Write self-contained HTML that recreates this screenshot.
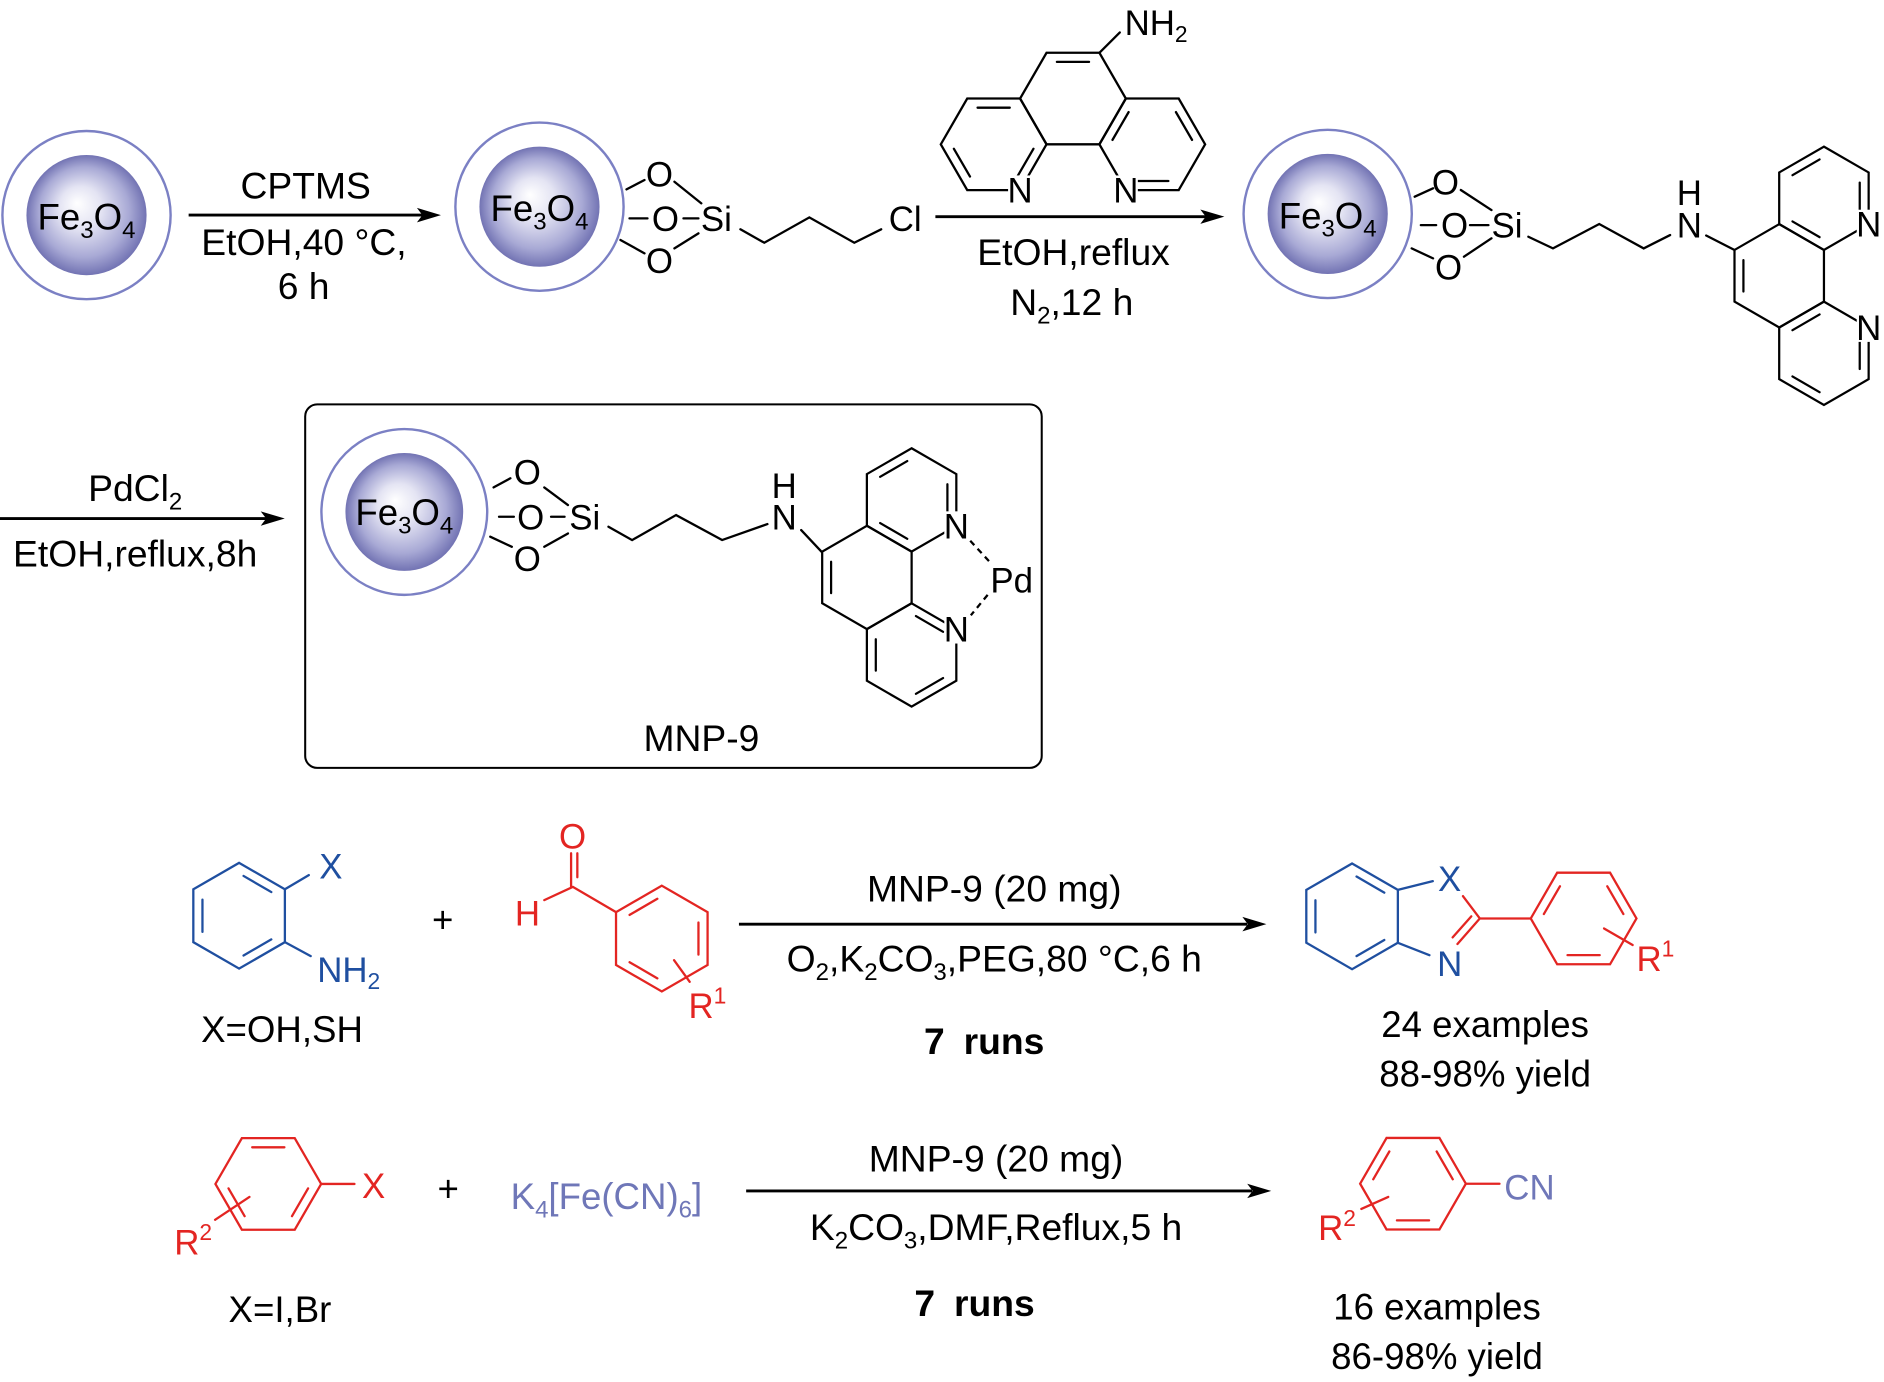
<!DOCTYPE html>
<html><head><meta charset="utf-8"><style>
html,body{margin:0;padding:0;background:#fff;}
svg{display:block;}
text{font-family:"Liberation Sans",Arial,sans-serif;font-size:30.5px;fill:#000;}
.c{text-anchor:middle;}
.a{font-size:29px;}
.cd{font-size:31px;}
.b{font-weight:bold;font-size:31px;}
</style></head><body>
<svg xmlns="http://www.w3.org/2000/svg" width="1884" height="1382" viewBox="0 0 1568 1150" preserveAspectRatio="none">
<defs>
<radialGradient id="sg" cx="0.5" cy="0.5" r="0.5" fx="0.42" fy="0.4">
<stop offset="0" stop-color="#ffffff"/>
<stop offset="0.35" stop-color="#e4e4f3"/>
<stop offset="0.75" stop-color="#a8a9d5"/>
<stop offset="1" stop-color="#7273b3"/>
</radialGradient>
</defs>

<!-- spheres -->
<g stroke="#7b80c4" stroke-width="2" fill="none">
<circle cx="72" cy="179" r="70"/>
<circle cx="449" cy="172" r="70"/>
<circle cx="1105" cy="178" r="70"/>
<circle cx="336.5" cy="426" r="69"/>
</g>
<g fill="url(#sg)">
<circle cx="72" cy="179" r="50"/>
<circle cx="449" cy="172" r="50"/>
<circle cx="1105" cy="178" r="50"/>
<circle cx="336.5" cy="426" r="49"/>
</g>
<text class="c" x="72" y="191" font-size="30">Fe<tspan font-size="20" dy="7">3</tspan><tspan dy="-7">O</tspan><tspan font-size="20" dy="7">4</tspan></text>
<text class="c" x="449" y="184" font-size="30">Fe<tspan font-size="20" dy="7">3</tspan><tspan dy="-7">O</tspan><tspan font-size="20" dy="7">4</tspan></text>
<text class="c" x="1105" y="190" font-size="30">Fe<tspan font-size="20" dy="7">3</tspan><tspan dy="-7">O</tspan><tspan font-size="20" dy="7">4</tspan></text>
<text class="c" x="336.5" y="437" font-size="30">Fe<tspan font-size="20" dy="7">3</tspan><tspan dy="-7">O</tspan><tspan font-size="20" dy="7">4</tspan></text>

<!-- black bonds -->
<g stroke="#000" stroke-width="1.9" fill="none" stroke-linecap="round" stroke-linejoin="miter">
<path d="M521.4,157.6 L536.4,149.8 M561.3,151.2 L583.7,169.2 M523.9,181.7 L538.9,181.7 M568.8,181.7 L581.3,181.7 M516.4,199.7 L536.4,210.8 M561.3,206.7 L581.3,194.2 M616.2,190.8 L636.1,202 L673.6,180.9 L711,202 L733.4,190.8"/>
<path d="M1177.4,163.7 L1192.7,156.7 M1215.8,158.1 L1241.3,174.8 M1182.5,187.3 L1195.3,187.3 M1223.4,187.3 L1238.8,187.3 M1174.9,206.7 L1192.7,215 M1218.4,213.6 L1241.3,198.3 M1272,197 L1292.5,206.7 L1331,186.4 L1368,206.7 L1390,195.6 M1420,196 L1443.6,208"/>
<path d="M410.8,405.6 L424.8,398 M453,405.6 L472.7,420.3 M415.3,430 L427.7,430 M458.6,430 L469.9,430 M408,446.6 L426,455 M453,455 L472.7,443.9 M506.4,438.3 L526.1,449.4 L562.7,428.6 L601,449.4 L638.7,436.1 M666.8,441.1 L683.7,459.1"/>
<g transform="translate(893,82)"><path d="M44,0 L22,38.1 L-22,38.1 L-44,0 L-22,-38.1 L22,-38.1 Z M-13.4,-30.5 L13.4,-30.5"/></g>
<g transform="translate(827,120.1)"><path d="M44,0 L22,38.1 L-22,38.1 L-44,0 L-22,-38.1 L22,-38.1 Z M-13.4,-30.5 L13.4,-30.5 M-19.7,26.8 L-33.1,3.7 M33.1,3.7 L19.7,26.8"/></g>
<g transform="translate(959,120.1)"><path d="M44,0 L22,38.1 L-22,38.1 L-44,0 L-22,-38.1 L22,-38.1 Z M-33.1,-3.7 L-19.7,-26.8 M19.7,-26.8 L33.1,-3.7 M13.4,30.5 L-13.4,30.5"/></g>
<path d="M915,43.9 L932,27"/>
<g transform="translate(1518,165) scale(0.977)"><path d="M0,-44 L38.1,-22 L38.1,22 L0,44 L-38.1,22 L-38.1,-22 Z M-26.8,-19.7 L-3.7,-33.1 M30.5,-13.4 L30.5,13.4 M-3.7,33.1 L-26.8,19.7"/></g>
<g transform="translate(1480.8,229.5) scale(0.977)"><path d="M0,-44 L38.1,-22 L38.1,22 L0,44 L-38.1,22 L-38.1,-22 Z M-30.5,13.4 L-30.5,-13.4"/></g>
<g transform="translate(1518,294) scale(0.977)"><path d="M0,-44 L38.1,-22 L38.1,22 L0,44 L-38.1,22 L-38.1,-22 Z M-26.8,-19.7 L-3.7,-33.1 M30.5,-13.4 L30.5,13.4 M-3.7,33.1 L-26.8,19.7"/></g>
<g transform="translate(758.7,416) scale(0.977)"><path d="M0,-44 L38.1,-22 L38.1,22 L0,44 L-38.1,22 L-38.1,-22 Z M-26.8,-19.7 L-3.7,-33.1 M30.5,-13.4 L30.5,13.4 M-3.7,33.1 L-26.8,19.7"/></g>
<g transform="translate(721.5,480.5) scale(0.977)"><path d="M0,-44 L38.1,-22 L38.1,22 L0,44 L-38.1,22 L-38.1,-22 Z M-30.5,13.4 L-30.5,-13.4"/></g>
<g transform="translate(758.7,545) scale(0.977)"><path d="M0,-44 L38.1,-22 L38.1,22 L0,44 L-38.1,22 L-38.1,-22 Z M3.7,-33.1 L26.8,-19.7 M-30.5,13.4 L-30.5,-13.4 M26.8,19.7 L3.7,33.1"/></g>
<path d="M807.5,450 L825,469 M822,495 L808,512" stroke-dasharray="5,4" stroke-linecap="butt"/>
<rect x="254" y="336.5" width="613" height="302.5" rx="10" ry="10" stroke-width="1.7"/>
<path d="M157,179 L352,179 M778.5,180.3 L1004,180.3 M0,431.5 L222,431.5 M615,769 L1038,769 M621,991 L1042,991" stroke-width="2.4" stroke-linecap="butt"/>
</g>
<g fill="#000">
<polygon points="367,179 347,173 351.5,179 347,185"/>
<polygon points="1019,180.3 999,174.3 1003.5,180.3 999,186.3"/>
<polygon points="237,431.5 217,425.5 221.5,431.5 217,437.5"/>
<polygon points="1054,769 1034,763 1038.5,769 1034,775"/>
<polygon points="1058,991 1038,985 1042.5,991 1038,997"/>
</g>

<g fill="#fff">
<rect x="839" y="146" width="20" height="24"/>
<rect x="927" y="146" width="20" height="24"/>
<rect x="1545.3" y="174.5" width="20" height="24"/>
<rect x="1545.3" y="260.5" width="20" height="24"/>
<rect x="785.9" y="425.5" width="20" height="24"/>
<rect x="785.9" y="511.5" width="20" height="24"/>
</g>

<g class="a">
<text class="c a" x="548.8" y="155">O</text>
<text class="c a" x="553.8" y="192.2">O</text>
<text class="c a" x="596.2" y="192.2">Si</text>
<text class="c a" x="548.8" y="227">O</text>
<text class="c a" x="753.4" y="192.2">Cl</text>
<text class="c a" x="849" y="168.7">N</text>
<text class="c a" x="937" y="168.7">N</text>
<text class="a" x="936" y="29">NH<tspan font-size="19" dy="6">2</tspan></text>
<text class="c a" x="1203" y="161.7">O</text>
<text class="c a" x="1210.6" y="197.8">O</text>
<text class="c a" x="1254.2" y="197.8">Si</text>
<text class="c a" x="1205.6" y="232.4">O</text>
<text class="c a" x="1406" y="197.5">N</text>
<text class="c a" x="1406" y="170.5">H</text>
<text class="c a" x="1555.3" y="197">N</text>
<text class="c a" x="1555.3" y="283">N</text>
<text class="c a" x="438.9" y="403">O</text>
<text class="c a" x="441.7" y="440.5">O</text>
<text class="c a" x="486.7" y="440.5">Si</text>
<text class="c a" x="438.9" y="475.2">O</text>
<text class="c a" x="652.7" y="440.5">N</text>
<text class="c a" x="652.7" y="414.5">H</text>
<text class="c a" x="795.9" y="448">N</text>
<text class="c a" x="795.9" y="534">N</text>
<text class="c a" x="842" y="493">Pd</text>
</g>

<text class="c cd" x="254.4" y="165">CPTMS</text>
<text class="c cd" x="253" y="212">EtOH,40 °C,</text>
<text class="c cd" x="252.7" y="249">6 h</text>
<text class="c cd" x="893.5" y="220.5">EtOH,reflux</text>
<text class="c cd" x="892" y="262">N<tspan font-size="20" dy="7">2</tspan><tspan dy="-7">,12 h</tspan></text>
<text class="c cd" x="112.5" y="417">PdCl<tspan font-size="20" dy="7">2</tspan></text>
<text class="c cd" x="112.5" y="471.6">EtOH,reflux,8h</text>
<text class="c cd" x="583.8" y="625">MNP-9</text>

<g stroke="#1f4fa0" stroke-width="1.9" fill="none" stroke-linecap="round">
<g transform="translate(199,762)"><path d="M0,-44 L38.1,-22 L38.1,22 L0,44 L-38.1,22 L-38.1,-22 Z M3.7,-33.1 L26.8,-19.7 M-30.5,13.4 L-30.5,-13.4 M26.8,19.7 L3.7,33.1"/></g>
<path d="M237.1,740 L257,728.2 M237.1,784 L258.6,795.6"/>
<g transform="translate(1125.3,762.5)"><path d="M0,-44 L38.1,-22 L38.1,22 L0,44 L-38.1,22 L-38.1,-22 Z M3.7,-33.1 L26.8,-19.7 M-30.5,13.4 L-30.5,-13.4 M26.8,19.7 L3.7,33.1"/></g>
<path d="M1163.4,740.5 L1192.5,733.2 M1163.4,784.5 L1189.7,794.8"/>
</g>
<g>
<text class="c a" x="275.4" y="731" style="fill:#1f4fa0">X</text>
<text class="a" x="264" y="817" style="fill:#1f4fa0">NH<tspan font-size="19" dy="6">2</tspan></text>
<text class="c a" x="1206.5" y="741.5" style="fill:#1f4fa0">X</text>
<text class="c a" x="1206.5" y="812" style="fill:#1f4fa0">N</text>
</g>
<g stroke="#e32522" stroke-width="1.9" fill="none" stroke-linecap="round">
<g transform="translate(550.8,781)"><path d="M0,-44 L38.1,-22 L38.1,22 L0,44 L-38.1,22 L-38.1,-22 Z M-26.8,-19.7 L-3.7,-33.1 M30.5,-13.4 L30.5,13.4 M-3.7,33.1 L-26.8,19.7"/></g>
<path d="M512.7,759 L476.8,738 L453,749 M475.3,738 L475.3,710 M480.5,730 L480.5,710 M561,799 L574,817"/>
<path d="M1217.6,745.7 L1231.6,764.3 L1213,785.5 M1224.5,762.5 L1209,780 M1231.6,764.3 L1274,764.3"/>
<g transform="translate(1318,764.3)"><path d="M44,0 L22,38.1 L-22,38.1 L-44,0 L-22,-38.1 L22,-38.1 Z M-33.1,-3.7 L-19.7,-26.8 M19.7,-26.8 L33.1,-3.7 M13.4,30.5 L-13.4,30.5"/></g>
<path d="M1335,772.6 L1358.8,786.4"/>
<g transform="translate(223.3,985.2)"><path d="M44,0 L22,38.1 L-22,38.1 L-44,0 L-22,-38.1 L22,-38.1 Z M-13.4,-30.5 L13.4,-30.5 M33.1,3.7 L19.7,26.8 M-19.7,26.8 L-33.1,3.7"/></g>
<path d="M267.3,985.2 L295,985.2 M179,1015 L207.6,996"/>
<g transform="translate(1176,985)"><path d="M44,0 L22,38.1 L-22,38.1 L-44,0 L-22,-38.1 L22,-38.1 Z M19.7,-26.8 L33.1,-3.7 M-33.1,-3.7 L-19.7,-26.8 M13.4,30.5 L-13.4,30.5"/></g>
<path d="M1220,985 L1248,985 M1133,1006 L1155.4,996"/>
</g>
<g>
<text class="c a" x="476.5" y="706" style="fill:#e32522">O</text>
<text class="c a" x="439" y="770" style="fill:#e32522">H</text>
<text class="a" x="573" y="847" style="fill:#e32522">R<tspan font-size="19" dy="-12">1</tspan></text>
<text class="a" x="1362" y="808" style="fill:#e32522">R<tspan font-size="19" dy="-12">1</tspan></text>
<text class="c a" x="311" y="997" style="fill:#e32522">X</text>
<text class="a" x="145" y="1044" style="fill:#e32522">R<tspan font-size="19" dy="-12">2</tspan></text>
<text class="a" x="1097" y="1032" style="fill:#e32522">R<tspan font-size="19" dy="-12">2</tspan></text>
<text class="a" x="1252" y="998" style="fill:#6f77b8">CN</text>
<text x="425" y="1006" style="fill:#6f77b8">K<tspan font-size="20" dy="7">4</tspan><tspan dy="-7">[Fe(CN)</tspan><tspan font-size="20" dy="7">6</tspan><tspan dy="-7">]</tspan></text>
</g>

<text class="c" x="368.5" y="776">+</text>
<text class="c" x="373" y="1000">+</text>
<text class="c" x="234.7" y="867">X=OH,SH</text>
<text class="c" x="233" y="1100">X=I,Br</text>

<text class="c cd" x="827.5" y="750">MNP-9 (20 mg)</text>
<text class="c cd" x="827.5" y="808.5">O<tspan font-size="20" dy="7">2</tspan><tspan dy="-7">,K</tspan><tspan font-size="20" dy="7">2</tspan><tspan dy="-7">CO</tspan><tspan font-size="20" dy="7">3</tspan><tspan dy="-7">,PEG,80 °C,6 h</tspan></text>
<text class="b" x="769" y="877">7</text>
<text class="b" x="802" y="877">runs</text>

<text class="c cd" x="829" y="975">MNP-9 (20 mg)</text>
<text class="c cd" x="829" y="1032">K<tspan font-size="20" dy="7">2</tspan><tspan dy="-7">CO</tspan><tspan font-size="20" dy="7">3</tspan><tspan dy="-7">,DMF,Reflux,5 h</tspan></text>
<text class="b" x="761" y="1095">7</text>
<text class="b" x="794" y="1095">runs</text>

<text class="c" x="1236" y="863">24 examples</text>
<text class="c" x="1236" y="904">88-98% yield</text>
<text class="c" x="1196" y="1098">16 examples</text>
<text class="c" x="1196" y="1139">86-98% yield</text>
</svg>
</body></html>
